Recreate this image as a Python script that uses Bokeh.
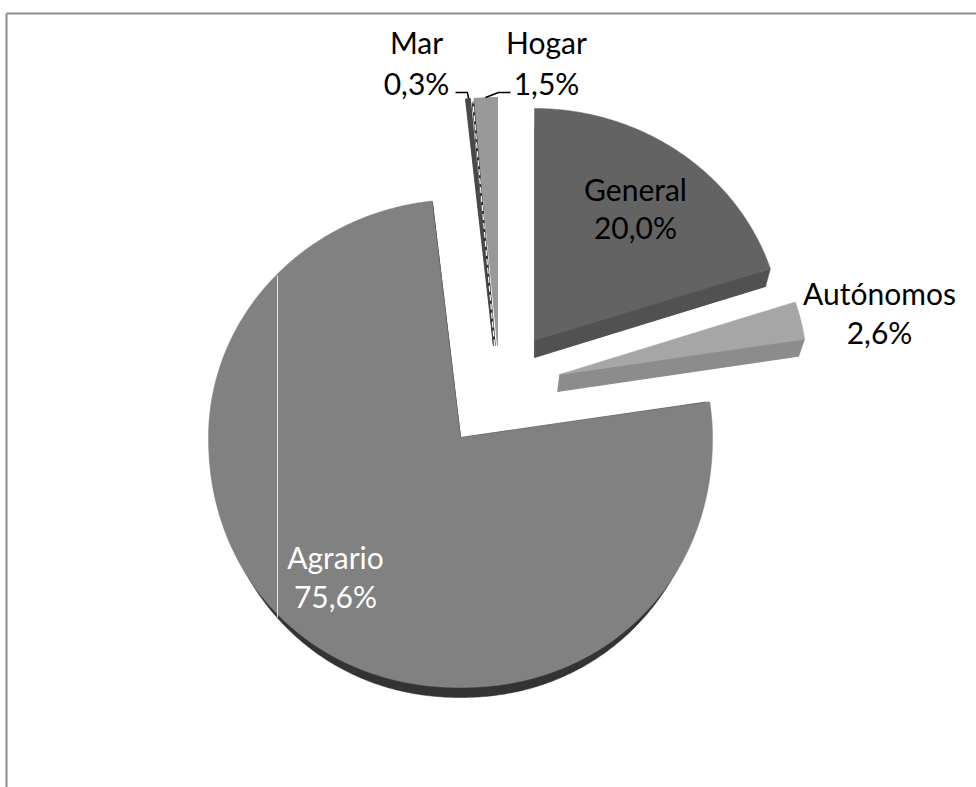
import numpy as np
from bokeh.plotting import figure
from bokeh.models import Range1d, ColumnDataSource
from bokeh.core.properties import value
from bokeh.embed import file_html
from bokeh.resources import INLINE

# --- data ---
categories = ["General", "Autónomos", "Agrario", "Mar", "Hogar"]
shares = [20.0, 2.6, 75.6, 0.3, 1.5]

# --- style and layout of each slice (pixel space of the page) ---
top_colors = ["#636363", "#a6a6a6", "#818181", "#4a4a4a", "#999999"]
side_colors = ["#515151", "#8c8c8c", "#333333", "#333333", "#8a8a8a"]
centers = [(534, 340), (559, 374), (460, 437), (493, 345), (497, 345)]
# horizontal radius, radius of the far half, radius of the near half
radii = [(248, 232, 232), (248, 235, 235), (252, 238, 250), (248, 248, 248), (250, 248, 248)]
side_centers = [(534, 357), (557, 391), (460, 437), (493, 345), (497, 345)]
side_radii = [(243, 230, 230), (244, 235, 235), (248, 236, 260), (248, 248, 248), (250, 248, 248)]
NEAR_EXPONENT = 2 / 2.08
label_pos = [(635, 188, 226), (879, 292, 331), (335, 556, 595), (416, 41, 82), (546, 41, 82)]
label_colors = ["#000000", "#000000", "#ffffff", "#000000", "#000000"]
FONT = "Lato"
FONT_SIZE = "30px"

W, H = 976, 787
p = figure(width=W, height=H, output_backend="svg", toolbar_location=None,
           x_range=Range1d(0, W), y_range=Range1d(H, 0),
           min_border=0, outline_line_color=None, background_fill_color="#ffffff")
p.xaxis.visible = False
p.yaxis.visible = False
p.grid.visible = False

# slice angular spans: clockwise from 12 o'clock
fractions = np.array(shares) / sum(shares)
ends = 90 - 360 * np.cumsum(fractions)
starts = np.concatenate(([90.0], ends[:-1]))


def slice_path(center, radius, start, end):
    th = np.radians(np.linspace(start, end, max(int(abs(start - end)) * 2, 4)))
    cx, cy = center
    rx, ry_far, ry_near = radius
    c, s = np.cos(th), np.sin(th)
    near = s < 0
    # the near half of the tilted pie bulges slightly past a plain ellipse
    cc = np.where(near, np.sign(c) * np.abs(c) ** NEAR_EXPONENT, c)
    ss = np.where(near, np.sign(s) * np.abs(s) ** NEAR_EXPONENT, s)
    xs = cx + rx * cc
    ys = cy - np.where(near, ry_near, ry_far) * ss
    return np.concatenate(([cx], xs)).tolist(), np.concatenate(([cy], ys)).tolist()


side_x, side_y, band_x, band_y, top_x, top_y = [], [], [], [], [], []
for i in range(len(categories)):
    sx, sy = slice_path(side_centers[i], side_radii[i], starts[i], ends[i])
    tx, ty = slice_path(centers[i], radii[i], starts[i], ends[i])
    side_x.append(sx); side_y.append(sy); top_x.append(tx); top_y.append(ty)
    # the cut face that joins the lower edge of the top face to the slice's base
    band_x.append([tx[0], tx[-1], sx[-1], sx[0]])
    band_y.append([ty[0], ty[-1], sy[-1], sy[0]])

p.patches(side_x, side_y, fill_color=side_colors, line_color=side_colors, line_width=0.5)
p.patches(band_x, band_y, fill_color=side_colors, line_color=side_colors, line_width=0.5)
p.patches(top_x, top_y, fill_color=top_colors, line_color=top_colors, line_width=0.5)

# dark edge with a white dashed seam between Mar and Hogar, and the vertical seam on Agrario
hog = categories.index("Hogar")
seam_x = [top_x[hog][0] - 3, top_x[hog][1] - 1]
seam_y = [top_y[hog][0], top_y[hog][1] + 3]
p.line(seam_x, seam_y, line_color="#333333", line_width=2.5)
p.line(seam_x, seam_y, line_color="#ffffff", line_width=1.2, line_dash="6 3")
p.line([277, 277], [275, 617], line_color="#e4e4e4", line_width=1)

# leader lines
p.line([455, 467, 468], [92, 92, 98], line_color="#000000", line_width=1.5)
p.line([510, 498, 485], [92, 92, 97], line_color="#000000", line_width=1.5)

# labels
name_src = ColumnDataSource(dict(
    x=[l[0] for l in label_pos], y=[l[1] for l in label_pos],
    t=categories, c=label_colors))
val_src = ColumnDataSource(dict(
    x=[l[0] for l in label_pos], y=[l[2] for l in label_pos],
    t=[f"{v:.1f}%".replace(".", ",") for v in shares], c=label_colors))
for src in (name_src, val_src):
    p.text("x", "y", text="t", source=src, text_color="c", text_align="center",
           text_baseline="middle", text_font=value(FONT), text_font_size=FONT_SIZE)

# chart frame: only the top and left edges fall inside the window
p.line([6, W], [13, 13], line_color="#8c8c8c", line_width=2)
p.line([6, 6], [13, H], line_color="#8c8c8c", line_width=2)

open("out.html", "w").write(file_html(p, INLINE))
